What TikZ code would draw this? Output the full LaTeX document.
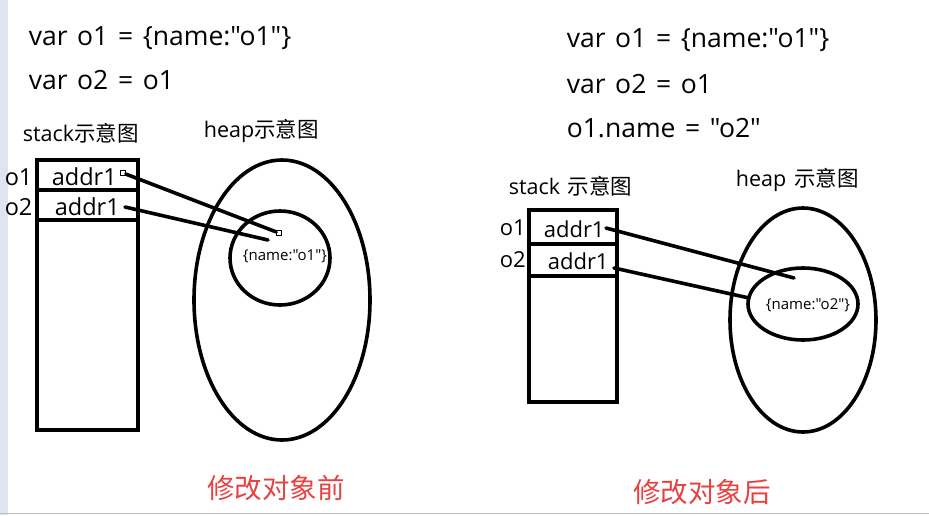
\documentclass[tikz,border=0pt]{standalone}
\usepackage{fontspec}
\setmainfont{Open Sans}[Ligatures=TeXOff,WordSpace=1.4]
\newfontfamily\cjk{Noto Sans CJK SC}
\usepackage{tikz}
\usetikzlibrary{positioning}
\definecolor{notered}{RGB}{232,64,64}
\definecolor{edgestrip}{RGB}{222,229,240}

\begin{document}
\begin{tikzpicture}[x=1pt,y=-1pt,line width=3.6pt,line cap=round]
\tikzset{
  code/.style={font=\fontsize{26.5}{30}\selectfont,anchor=west,inner sep=0pt},
  title/.style={font=\fontsize{21.5}{24}\selectfont,anchor=west,inner sep=0pt},
  cell/.style={font=\fontsize{23.5}{26}\selectfont,anchor=west,inner sep=0pt},
  smallcell/.style={cell,font=\fontsize{22}{26}\selectfont},
  obj/.style={font=\fontsize{15}{17}\selectfont,inner sep=0pt},
  caption/.style={font=\cjk\fontsize{27.5}{30}\selectfont,text=notered,inner sep=0pt},
  sq/.style={draw,fill=white,line width=.8pt,minimum size=5pt,inner sep=0pt}
}
\useasboundingbox (0,0) rectangle (929,515);
\fill[edgestrip] (0,0) rectangle (8,515);
\draw[black!25,line width=1pt] (0,513) -- (929,513);
% before the change
\begin{scope}
\node[code] (l-line1) at (27,38) {var o1 = \{name:"o1"\}};
\node[code] (l-line2) at (27,80) {var o2 = o1};
\node[title] (l-stack) at (21,133) {stack{\cjk 示意图}};
\node[title] (l-heap) at (202,131) {heap{\cjk 示意图}};
\draw (37,160) rectangle (138,430);
\draw (37,190) -- (138,190);
\draw (37,220) -- (138,220);
\node[cell] (l-o1) at (3,177) {o1};
\node[cell] (l-o2) at (3,207) {o2};
\node[cell] (l-a1) at (50,177) {addr1};
\node[cell] (l-a2) at (53,207) {addr1};
\draw (282,300) ellipse (88 and 140);
\draw (280,258) ellipse (50 and 47);
\node[obj] (l-obj) at (285,256) {\{name:"o1"\}};
\node[sq] (l-p1) at (123,173) {};
\node[sq] (l-q1) at (279,233) {};
\coordinate (l-p2) at (125,207);
\coordinate (l-q2) at (268,240);
\draw (l-p1) -- (l-q1);
\draw (l-p2) -- (l-q2);
\node[caption] (l-cap) at (276,488) {修改对象前};
\end{scope}
% after the change
\begin{scope}
\node[code] (r-line1) at (565,40) {var o1 = \{name:"o1"\}};
\node[code] (r-line2) at (565,84) {var o2 = o1};
\node[code] (r-line3) at (565,128) {o1.name = "o2"};
\node[title] (r-stack) at (507,186) {stack {\cjk 示意图}};
\node[title] (r-heap) at (734,180) {heap {\cjk 示意图}};
\draw (529,210) rectangle (617,402);
\draw (529,244) -- (617,244);
\draw (529,276) -- (617,276);
\node[smallcell] (r-o1) at (498,228) {o1};
\node[smallcell] (r-o2) at (498,260) {o2};
\node[smallcell] (r-a1) at (542,229) {addr1};
\node[smallcell] (r-a2) at (546,261) {addr1};
\draw (803,320) ellipse (73 and 112);
\draw (803,304) ellipse (55 and 36);
\node[obj] (r-obj) at (808,305) {\{name:"o2"\}};
\coordinate (r-p1) at (606,228);
\coordinate (r-q1) at (794,278);
\coordinate (r-p2) at (614,268);
\coordinate (r-q2) at (749,298);
\draw (r-p1) -- (r-q1);
\draw (r-p2) -- (r-q2);
\node[caption] (r-cap) at (702,492) {修改对象后};
\end{scope}
\end{tikzpicture}
\end{document}
